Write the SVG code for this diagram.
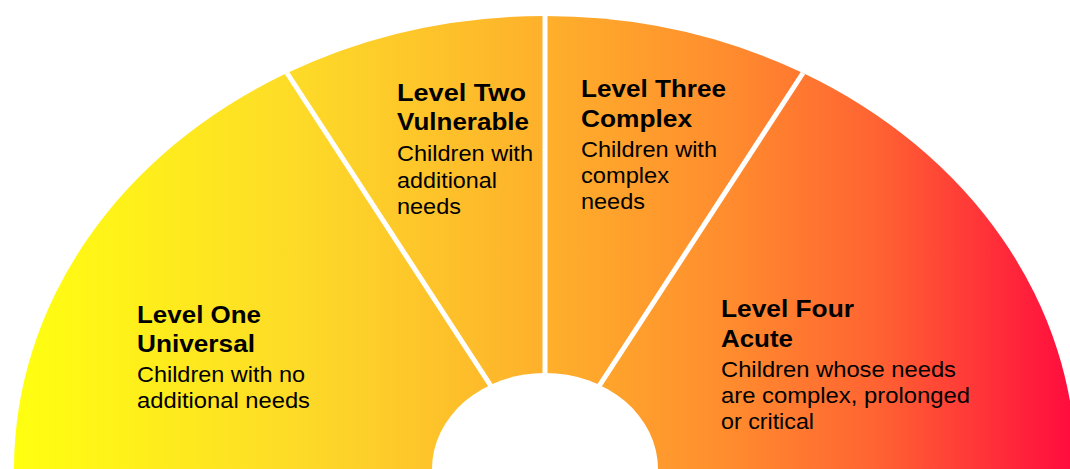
<svg xmlns="http://www.w3.org/2000/svg" width="1070" height="469" viewBox="0 0 1070 469">
<defs>
<linearGradient id="g" gradientUnits="userSpaceOnUse" x1="14" y1="0" x2="1076" y2="0">
<stop offset="0" stop-color="#FFFF10"/>
<stop offset="0.27" stop-color="#FDDA28"/>
<stop offset="0.5" stop-color="#FEB02B"/>
<stop offset="0.67" stop-color="#FF8D2E"/>
<stop offset="0.81" stop-color="#FF6432"/>
<stop offset="1" stop-color="#FF0A3E"/>
</linearGradient>
<style>
.w{fill:url(#g);}
.b{font-family:"Liberation Sans",Arial,sans-serif;font-weight:bold;font-size:23.5px;fill:#000;}
.r{font-family:"Liberation Sans",Arial,sans-serif;font-size:22px;fill:#000;}
.d{stroke:#FFFFFF;stroke-width:5;fill:none;}
</style>
</defs>
<rect width="1070" height="469" fill="#FFFFFF"/>
<g id="level-one">
<path class="w" d="M545 469 L14 469 A531 453 0 0 1 287 73 Z"/>
<text class="b" x="137" y="323" textLength="124" lengthAdjust="spacingAndGlyphs">Level One</text>
<text class="b" x="137" y="352" textLength="118" lengthAdjust="spacingAndGlyphs">Universal</text>
<text class="r" x="137" y="382" textLength="168" lengthAdjust="spacingAndGlyphs">Children with no</text>
<text class="r" x="137" y="408" textLength="173" lengthAdjust="spacingAndGlyphs">additional needs</text>
</g>
<g id="level-two">
<path class="w" d="M545 469 L287 73 A531 453 0 0 1 545 16 Z"/>
<text class="b" x="397" y="101" textLength="129" lengthAdjust="spacingAndGlyphs">Level Two</text>
<text class="b" x="397" y="130" textLength="132" lengthAdjust="spacingAndGlyphs">Vulnerable</text>
<text class="r" x="397" y="161" textLength="136" lengthAdjust="spacingAndGlyphs">Children with</text>
<text class="r" x="397" y="188" textLength="100" lengthAdjust="spacingAndGlyphs">additional</text>
<text class="r" x="397" y="214" textLength="64" lengthAdjust="spacingAndGlyphs">needs</text>
</g>
<g id="level-three">
<path class="w" d="M545 469 L545 16 A531 453 0 0 1 803 73 Z"/>
<text class="b" x="581" y="97" textLength="145" lengthAdjust="spacingAndGlyphs">Level Three</text>
<text class="b" x="581" y="127" textLength="111" lengthAdjust="spacingAndGlyphs">Complex</text>
<text class="r" x="581" y="157" textLength="136" lengthAdjust="spacingAndGlyphs">Children with</text>
<text class="r" x="581" y="183" textLength="88" lengthAdjust="spacingAndGlyphs">complex</text>
<text class="r" x="581" y="209" textLength="64" lengthAdjust="spacingAndGlyphs">needs</text>
</g>
<g id="level-four">
<path class="w" d="M545 469 L803 73 A531 453 0 0 1 1076 469 Z"/>
<text class="b" x="721" y="317" textLength="133" lengthAdjust="spacingAndGlyphs">Level Four</text>
<text class="b" x="721" y="347" textLength="72" lengthAdjust="spacingAndGlyphs">Acute</text>
<text class="r" x="721" y="377" textLength="235" lengthAdjust="spacingAndGlyphs">Children whose needs</text>
<text class="r" x="721" y="403" textLength="249" lengthAdjust="spacingAndGlyphs">are complex, prolonged</text>
<text class="r" x="721" y="429" textLength="93" lengthAdjust="spacingAndGlyphs">or critical</text>
</g>
<g id="connectors">
<line class="d" x1="545" y1="469" x2="287" y2="73"/>
<line class="d" x1="545" y1="469" x2="545" y2="16"/>
<line class="d" x1="545" y1="469" x2="803" y2="73"/>
<ellipse cx="545" cy="469" rx="113" ry="96" fill="#FFFFFF"/>
</g>
</svg>
